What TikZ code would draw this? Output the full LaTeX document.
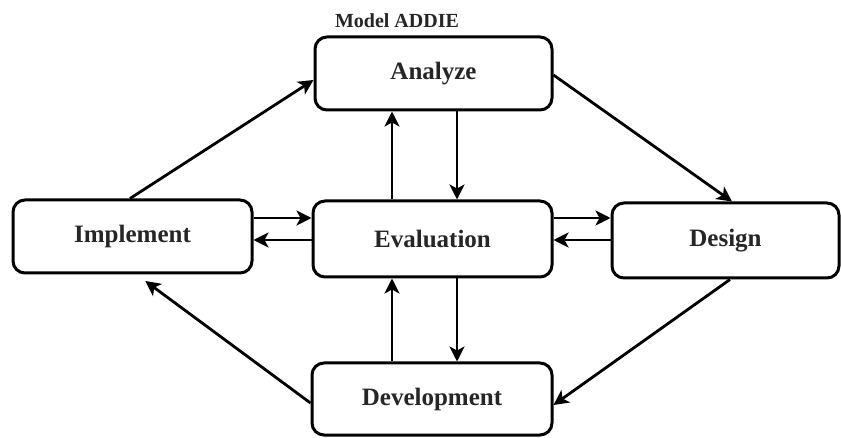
\documentclass[tikz,border=0pt]{standalone}
\usepackage{fontspec}
\setmainfont{Liberation Serif}
\usetikzlibrary{arrows.meta}
\begin{document}
\begin{tikzpicture}[x=1pt,y=-1pt,
  box/.style={draw=black, line width=3pt, rounded corners=12pt, fill=white,
    font=\fontsize{25}{28}\selectfont\bfseries, text=black!85, inner sep=0pt},
  arr/.style={line width=2.8pt, -{Stealth[length=15pt,width=15pt,inset=4pt]}}]
\path[fill=white] (0,0) rectangle (841,438);
\useasboundingbox (0,0) rectangle (841,438);
\node[box, minimum width=237pt, minimum height=73pt] (Analyze) at (433.5,73.5) {Analyze};
\node[box, minimum width=239pt, minimum height=73pt] (Implement) at (132.5,236.5) {Implement};
\node[box, minimum width=239pt, minimum height=76pt] (Evaluation) at (432.5,239) {Evaluation};
\node[box, minimum width=227pt, minimum height=75pt] (Design) at (725.5,240.5) {Design};
\node[box, minimum width=240pt, minimum height=72pt] (Development) at (432,399) {Development};
\node[font=\fontsize{20}{22}\selectfont\bfseries, text=black!85, inner sep=0pt] (title) at (397,21) {Model ADDIE};
\coordinate (hA) at (0,218);
\coordinate (hB) at (0,240);
\coordinate (vA) at (392,0);
\coordinate (vB) at (457,0);
% horizontal
\draw[arr] (Implement.east |- hA) -- (Evaluation.west |- hA);
\draw[arr] (Evaluation.west |- hB) -- (Implement.east |- hB);
\draw[arr] (Evaluation.east |- hA) -- (Design.west |- hA);
\draw[arr] (Design.west |- hB) -- (Evaluation.east |- hB);
% vertical
\draw[arr] (Evaluation.north -| vA) -- (Analyze.south -| vA);
\draw[arr] (Analyze.south -| vB) -- (Evaluation.north -| vB);
\draw[arr] (Development.north -| vA) -- (Evaluation.south -| vA);
\draw[arr] (Evaluation.south -| vB) -- (Development.north -| vB);
% diagonals
\draw[arr] ([xshift=-2.5pt]Implement.north) -- ([yshift=-6.5pt]Analyze.west);
\draw[arr] ([yshift=-1.5pt]Analyze.east) -- ([xshift=6.5pt]Design.north);
\draw[arr] ([xshift=4.5pt]Design.south) -- ([yshift=-6pt]Development.east);
\draw[arr, shorten >=11pt] ([yshift=-4pt]Development.west) -- ([xshift=4pt]Implement.south);
\end{tikzpicture}
\end{document}
